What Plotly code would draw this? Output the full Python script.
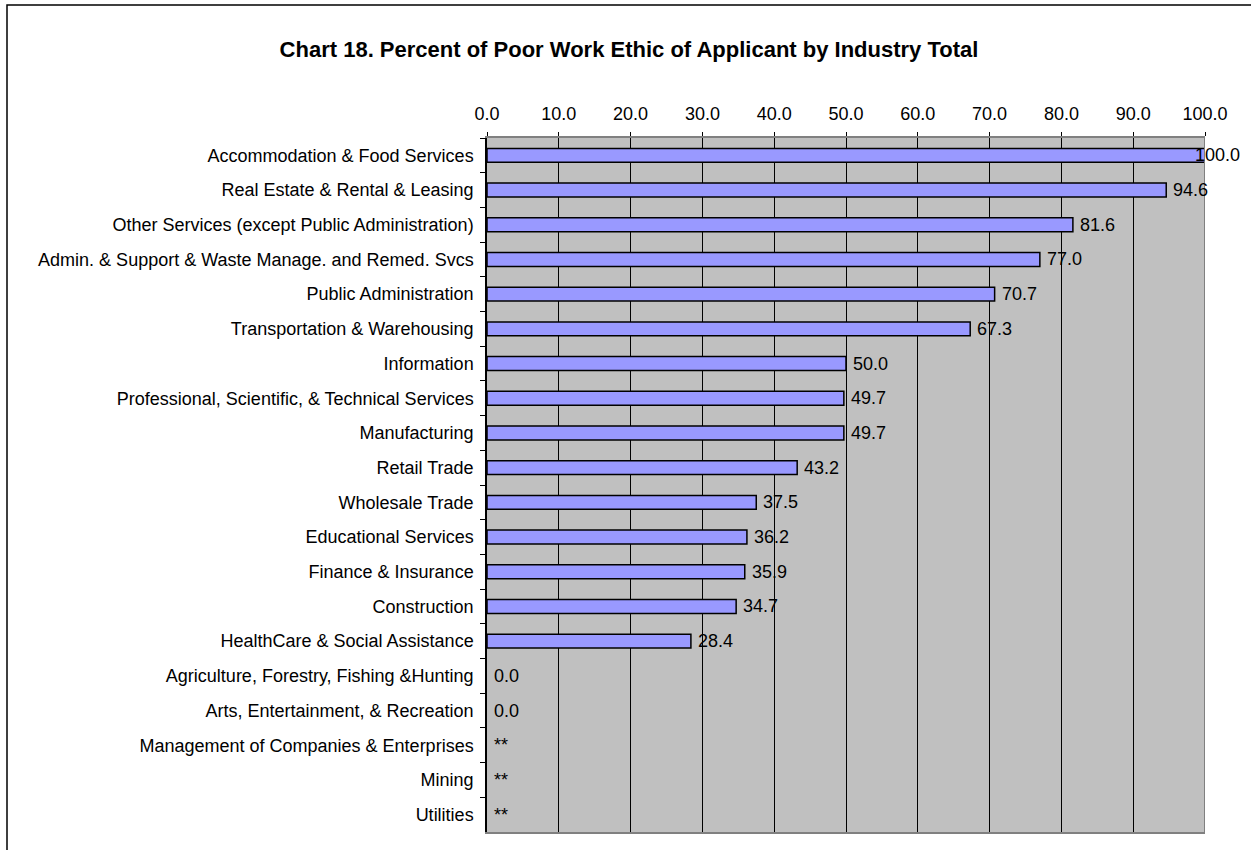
import plotly.graph_objects as go

categories = [
    "Accommodation & Food Services",
    "Real Estate & Rental & Leasing",
    "Other Services (except Public Administration)",
    "Admin. & Support & Waste Manage. and Remed. Svcs",
    "Public Administration",
    "Transportation & Warehousing",
    "Information",
    "Professional, Scientific, & Technical Services",
    "Manufacturing",
    "Retail Trade",
    "Wholesale Trade",
    "Educational Services",
    "Finance & Insurance",
    "Construction",
    "HealthCare & Social Assistance",
    "Agriculture, Forestry, Fishing &Hunting",
    "Arts, Entertainment, & Recreation",
    "Management of Companies & Enterprises",
    "Mining",
    "Utilities",
]
values = [100.0, 94.6, 81.6, 77.0, 70.7, 67.3, 50.0, 49.7, 49.7, 43.2,
          37.5, 36.2, 35.9, 34.7, 28.4, 0.0, 0.0, None, None, None]
labels = [f"{v:.1f}" if v is not None else "**" for v in values]
x_ticks = [0, 10, 20, 30, 40, 50, 60, 70, 80, 90, 100]

W, H = 1251, 850
L, R, T, B = 487, 1205, 138, 832
FONT = "Liberation Sans, Arial, sans-serif"
FS = 18

line_widths = [1.5 if v else 0 for v in values]

fig = go.Figure()
fig.add_trace(go.Bar(
    y=categories, x=values, orientation="h",
    marker=dict(color="#9999FF", line=dict(color="black", width=line_widths)),
    width=0.4, hoverinfo="skip",
))

for c, v, t in zip(categories, values, labels):
    xv = v if v is not None else 0
    shift = 5 if xv < 100 else -12
    fig.add_annotation(x=xv, y=c, text=t, showarrow=False, xanchor="left",
                       yanchor="middle", xshift=shift,
                       font=dict(family=FONT, size=FS, color="black"))

def px_x(p):
    return (p - L) / (R - L)

def px_y(p):
    return (B - p) / (B - T)

# outer chart frame
fig.add_shape(type="rect", xref="paper", yref="paper",
              x0=px_x(7), x1=px_x(1262), y0=px_y(862), y1=px_y(5),
              line=dict(color="black", width=1.5), fillcolor="rgba(0,0,0,0)")
# right border of plot area
fig.add_shape(type="line", xref="x", yref="paper", x0=100, x1=100, y0=0, y1=1,
              line=dict(color="#808080", width=2), layer="above")

fig.update_layout(
    width=W, height=H,
    margin=dict(l=L, r=W - R, t=T, b=H - B, pad=0),
    paper_bgcolor="white", plot_bgcolor="#C0C0C0",
    showlegend=False,
    bargap=0.6,
    font=dict(family=FONT, size=FS, color="black"),
    title=dict(text="<b>Chart 18. Percent of Poor Work Ethic of Applicant by Industry Total</b>",
               x=629 / W, xanchor="center", xref="container",
               y=1 - 49 / H, yanchor="middle", yref="container",
               font=dict(family=FONT, size=22, color="black")),
    xaxis=dict(side="top", range=[0, 100], tickvals=x_ticks,
               ticktext=[f"{v:.1f}" for v in x_ticks],
               ticks="outside", ticklen=4, tickcolor="black", tickwidth=1,
               showgrid=True, gridcolor="black", gridwidth=1,
               showline=True, linecolor="#808080", linewidth=2, mirror=True,
               zeroline=False, fixedrange=True,
               tickfont=dict(family=FONT, size=FS, color="black"),
               ticklabelstandoff=5),
    yaxis=dict(categoryorder="array", categoryarray=categories,
               autorange="reversed", type="category",
               ticks="outside", ticklen=5, tickcolor="black", tickwidth=1,
               tickson="boundaries",
               showline=True, linecolor="black", linewidth=1.5,
               showgrid=False, zeroline=False, fixedrange=True,
               tickfont=dict(family=FONT, size=FS, color="black"),
               ticklabelstandoff=8),
)

fig.write_html("out.html")
